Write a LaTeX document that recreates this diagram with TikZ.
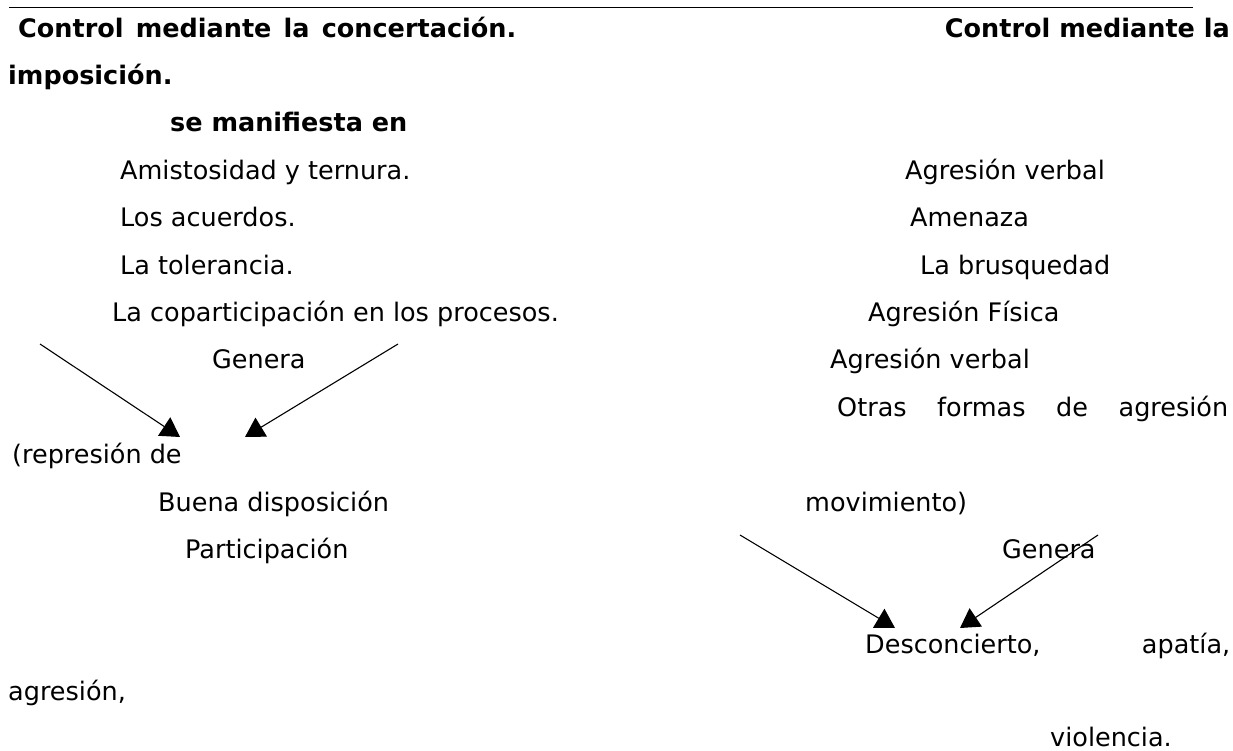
\documentclass[tikz,border=0pt]{standalone}
\usepackage{fontspec}
\setmainfont{DejaVu Sans}
\usetikzlibrary{arrows.meta,positioning}

\begin{document}
\begin{tikzpicture}[x=1pt, y=-1pt,
  txt/.style={anchor=base west, inner sep=0pt, font=\fontsize{25.5}{30}\selectfont},
  hd/.style={txt, font=\fontsize{25.5}{30}\selectfont\bfseries},
  arrow/.style={-{Triangle[length=19pt,width=22pt]}, line width=1.1pt}
]
\useasboundingbox (0,0) rectangle (1233,751);

% Top rule
\coordinate (r1) at (9,7.5);
\coordinate (r2) at (1193,7.5);
\draw[line width=1.6pt] (r1) -- (r2);

% Headings
\node[hd] (concert) at (18,37.5) {\makebox[498pt][s]{Control mediante la concertación.}};
\node[hd, anchor=base east] (impo) at (1230,37.5) {Control mediante la};
\node[hd] (impo2) at (8,84.4) {imposición.};
\node[hd] (manif) at (170,131.8) {se manifiesta en};

% Left column
\node[txt] (amist) at (120,179.2) {Amistosidad y ternura.};
\node[txt] (acuer) at (120,226.6) {Los acuerdos.};
\node[txt] (toler) at (120,274) {La tolerancia.};
\node[txt] (copart) at (112,321.4) {La coparticipación en los procesos.};
\node[txt] (generaA) at (212,368.8) {Genera};
\node[txt] (repres) at (12,463.6) {(represión de};
\node[txt] (buena) at (158,511) {Buena disposición};
\node[txt] (partic) at (185,558.4) {Participación};
\node[txt] (agres) at (8,700.6) {agresión,};

% Right column
\node[txt] (verbalA) at (905,179.2) {Agresión verbal};
\node[txt] (amen) at (910,226.6) {Amenaza};
\node[txt] (brusq) at (920,274) {La brusquedad};
\node[txt] (fisica) at (868,321.4) {Agresión Física};
\node[txt] (verbalB) at (830,368.8) {Agresión verbal};
\node[txt] (otras) at (837,416.2) {\makebox[391pt][s]{Otras formas de agresión}};
\node[txt] (movim) at (805,511) {movimiento)};
\node[txt] (generaB) at (1002,558.4) {Genera};
\node[txt] (descon) at (865,653.2) {\makebox[365pt][s]{Desconcierto, apatía,}};
\node[txt] (viol) at (1050,746) {violencia.};

% Arrows
\coordinate (l1) at (40,344);
\coordinate (l2) at (398,344);
\coordinate (lt1) at (180,437);
\coordinate (lt2) at (245,437);
\coordinate (m1) at (740,535);
\coordinate (m2) at (1098,535);
\coordinate (mt1) at (895,628);
\coordinate (mt2) at (960,628);
\draw[arrow] (l1) -- (lt1);
\draw[arrow] (l2) -- (lt2);
\draw[arrow] (m1) -- (mt1);
\draw[arrow] (m2) -- (mt2);

\end{tikzpicture}
\end{document}
